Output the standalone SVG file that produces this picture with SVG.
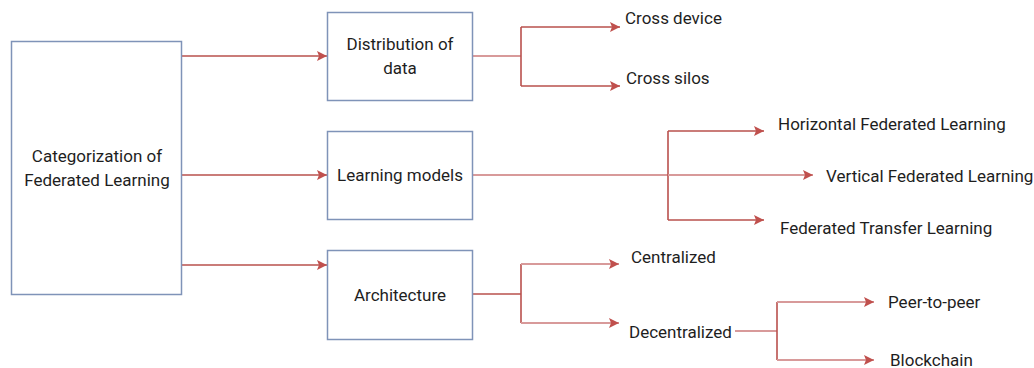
<svg xmlns="http://www.w3.org/2000/svg" width="1034" height="368" viewBox="0 0 1034 368">
  <defs>
    <style>
      .box { fill: #ffffff; stroke: #7f93b8; stroke-width: 1.5; }
      .lbl { font-family: Roboto, "Liberation Sans", sans-serif; font-size: 17px; fill: #1e1e1e; }
      .mid { text-anchor: middle; }
      .c { fill: none; stroke: #b9504d; stroke-width: 1.6; }
      .cl { fill: none; stroke: #d89a9a; stroke-width: 2; }
    </style>
    <marker id="arr" viewBox="0 0 10 10" refX="10" refY="5" markerWidth="10" markerHeight="10" markerUnits="userSpaceOnUse" orient="auto">
      <path d="M0,0 L10,5 L0,10 L2,5 Z" fill="#c0504d"/>
    </marker>
  </defs>

  <rect width="1034" height="368" fill="#ffffff"/>

  <!-- connectors -->
  <g id="connectors">
    <!-- root to categories -->
    <path class="c" d="M182,56 H327" marker-end="url(#arr)"/>
    <path class="c" d="M182,175 H327" marker-end="url(#arr)"/>
    <path class="c" d="M182,265 H327" marker-end="url(#arr)"/>

    <!-- distribution of data -->
    <path class="cl" d="M473,56 H521"/>
    <path class="c" d="M521,27 V86"/>
    <path class="c" d="M521,27 H620" marker-end="url(#arr)"/>
    <path class="c" d="M521,86 H620" marker-end="url(#arr)"/>

    <!-- learning models -->
    <path class="cl" d="M473,175 H668"/>
    <path class="c" d="M668,131 V220"/>
    <path class="c" d="M668,131 H764" marker-end="url(#arr)"/>
    <path class="c" d="M668,220 H764" marker-end="url(#arr)"/>
    <path class="cl" d="M668,175 H813" marker-end="url(#arr)"/>

    <!-- architecture -->
    <path class="c" d="M473,294 H521"/>
    <path class="c" d="M521,264 V323"/>
    <path class="cl" d="M521,264 H619" marker-end="url(#arr)"/>
    <path class="cl" d="M521,323 H619" marker-end="url(#arr)"/>

    <!-- decentralized -->
    <path class="cl" d="M735,331 H777"/>
    <path class="c" d="M777,302 V360"/>
    <path class="cl" d="M777,302 H874" marker-end="url(#arr)"/>
    <path class="cl" d="M777,360 H874" marker-end="url(#arr)"/>
  </g>

  <g id="node-root">
    <rect class="box" x="11.5" y="41.5" width="170" height="253"/>
    <text class="lbl mid" x="97" y="162">Categorization of</text>
    <text class="lbl mid" x="97" y="186">Federated Learning</text>
  </g>

  <g id="node-distribution">
    <rect class="box" x="327.5" y="12.5" width="145" height="88"/>
    <text class="lbl mid" x="400" y="50">Distribution of</text>
    <text class="lbl mid" x="400" y="74">data</text>
  </g>

  <g id="node-learning">
    <rect class="box" x="327.5" y="131.5" width="145" height="88"/>
    <text class="lbl mid" x="400" y="181">Learning models</text>
  </g>

  <g id="node-architecture">
    <rect class="box" x="327.5" y="250.5" width="145" height="89"/>
    <text class="lbl mid" x="400" y="301">Architecture</text>
  </g>

  <g id="node-cross-device"><text class="lbl" x="625" y="24">Cross device</text></g>
  <g id="node-cross-silos"><text class="lbl" x="626" y="84">Cross silos</text></g>
  <g id="node-horizontal"><text class="lbl" x="778" y="130">Horizontal Federated Learning</text></g>
  <g id="node-vertical"><text class="lbl" x="826" y="182">Vertical Federated Learning</text></g>
  <g id="node-transfer"><text class="lbl" x="780" y="234">Federated Transfer Learning</text></g>
  <g id="node-centralized"><text class="lbl" x="631" y="263">Centralized</text></g>
  <g id="node-decentralized"><text class="lbl" x="629" y="338">Decentralized</text></g>
  <g id="node-p2p"><text class="lbl" x="888" y="308">Peer-to-peer</text></g>
  <g id="node-blockchain"><text class="lbl" x="890" y="366">Blockchain</text></g>
</svg>
